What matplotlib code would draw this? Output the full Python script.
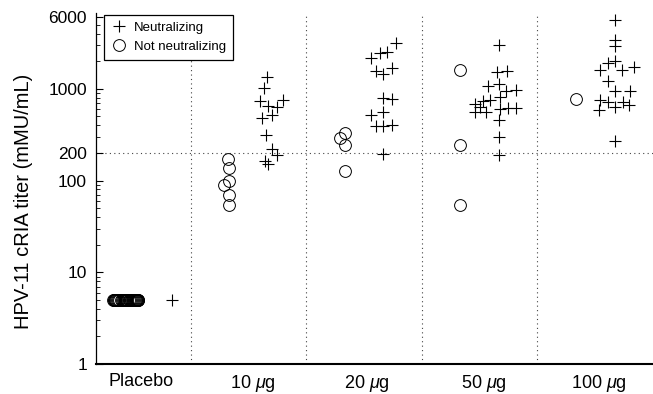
import numpy as np
import matplotlib
matplotlib.use('Agg')
import matplotlib.pyplot as plt
from matplotlib.ticker import FixedLocator, LogLocator, NullFormatter

plt.rcParams['font.family'] = ['Liberation Sans', 'DejaVu Sans']
plt.rcParams['mathtext.fontset'] = 'custom'
plt.rcParams['mathtext.rm'] = 'Liberation Sans'
plt.rcParams['mathtext.it'] = 'Liberation Sans:italic'

# groups and tick labels
groups = ['Placebo', r'10 $\mu$g', r'20 $\mu$g', r'50 $\mu$g', r'100 $\mu$g']
y_ticks = [1, 10, 100, 200, 1000, 6000]

# titer values (mMU/mL), per group
neut_vals = [
    [5],
    [1330, 1010, 740, 750, 646, 635, 516, 482, 312, 218, 189, 163, 153],
    [3160, 2520, 2430, 2140, 1690, 1570, 1440, 796, 771, 561, 516, 394, 394, 401, 195],
    [2990, 1530, 1555, 1067, 1142, 942, 982, 816, 751, 733, 679, 635, 552, 561, 596,
     610, 625, 455, 299, 189],
    [5690, 3380, 2930, 2010, 1890, 1620, 1620, 1735, 1220, 942, 942, 764, 719, 635,
     719, 662, 585, 269],
]
nonneut_vals = [
    [5] * 30,
    [170, 137, 99, 89, 69, 54],
    [331, 288, 241, 127],
    [1620, 243, 54],
    [771],
]

# horizontal jitter of each point within its group (category units)
neut_jit = [
    [0.335],
    [0.155, 0.134, 0.097, 0.30, 0.169, 0.242, 0.198, 0.112, 0.147, 0.204, 0.242, 0.141, 0.164],
    [0.275, 0.20, 0.137, 0.059, 0.238, 0.102, 0.166, 0.16, 0.238, 0.166, 0.059, 0.102, 0.166,
     0.238, 0.166],
    [0.167, 0.147, 0.233, 0.074, 0.167, 0.227, 0.313, 0.175, 0.089, 0.031, -0.041, 0.002,
     -0.041, 0.054, 0.175, 0.247, 0.313, 0.167, 0.167, 0.167],
    [0.171, 0.171, 0.171, 0.171, 0.108, 0.041, 0.229, 0.338, 0.108, 0.171, 0.301, 0.041,
     0.113, 0.171, 0.238, 0.295, 0.035, 0.171],
]
nonneut_jit = [
    [-0.175, -0.17, -0.165, -0.16, -0.155, -0.15, -0.14, -0.13, -0.12, -0.11,
     -0.10, -0.09, -0.08, -0.07, -0.06, -0.05, -0.04, -0.03, -0.02, -0.01,
     0.0, 0.008, 0.015, 0.02, 0.025, 0.03, 0.034, 0.037, 0.04, 0.042],
    [-0.18, -0.17, -0.17, -0.21, -0.17, -0.17],
    [-0.167, -0.21, -0.167, -0.167],
    [-0.171, -0.171, -0.171],
    [-0.167],
]

fig = plt.figure(figsize=(6.53, 3.94), dpi=100)
ax = fig.add_axes([0.147, 0.076, 0.853, 0.891])

for i in range(len(groups)):
    ax.plot(i + np.array(nonneut_jit[i]), nonneut_vals[i], linestyle='none',
            marker='o', ms=8.5, mfc='none', mec='black', mew=0.7,
            label='Not neutralizing' if i == 0 else None, zorder=3)
    ax.plot(i + np.array(neut_jit[i]), neut_vals[i], linestyle='none',
            marker='+', ms=8.5, mec='black', mew=0.8,
            label='Neutralizing' if i == 0 else None, zorder=3)

# separators between groups and the 200 cut-off
for i in range(len(groups) - 1):
    ax.axvline(i + 0.5, color='#444444', lw=0.8, linestyle=(0, (1, 3)), zorder=1)
ax.axhline(200, color='#444444', lw=0.8, linestyle=(0, (1, 3)), zorder=1)

ax.set_yscale('log')
ax.set_ylim(1, 6700)
ax.set_xlim(-0.3225, 4.5)

ax.yaxis.set_major_locator(FixedLocator(y_ticks))
ax.set_yticklabels([str(t) for t in y_ticks])
ax.yaxis.set_minor_locator(LogLocator(base=10, subs=np.arange(2, 10)))
ax.yaxis.set_minor_formatter(NullFormatter())
ax.tick_params(axis='y', which='major', direction='in', length=5, width=0.8,
               labelsize=12.5, pad=6.5)
ax.tick_params(axis='y', which='minor', direction='in', length=3, width=0.6)

ax.set_xticks([0.067, 1.037, 2.024, 3.037, 4.033])
ax.set_xticklabels(groups)
ax.tick_params(axis='x', length=0, labelsize=13, pad=6.5)

ax.set_ylabel('HPV-11 cRIA titer (mMU/mL)', fontsize=14.5)
ax.yaxis.set_label_coords(-0.113, 0.464)

ax.spines['top'].set_visible(False)
ax.spines['right'].set_visible(False)
ax.spines['left'].set_linewidth(0.9)
ax.spines['bottom'].set_linewidth(1.5)

handles, labels = ax.get_legend_handles_labels()
order = [labels.index('Neutralizing'), labels.index('Not neutralizing')]
leg = ax.legend([handles[k] for k in order], [labels[k] for k in order],
                loc='upper left', bbox_to_anchor=(0.0144, 0.995), fontsize=9.5,
                frameon=True, fancybox=False, framealpha=1, edgecolor='black',
                borderpad=0.5, handletextpad=0.5, labelspacing=0.55,
                handlelength=1.3, borderaxespad=0.0)
leg.get_frame().set_linewidth(0.9)

fig.savefig('out.png', dpi=100)
